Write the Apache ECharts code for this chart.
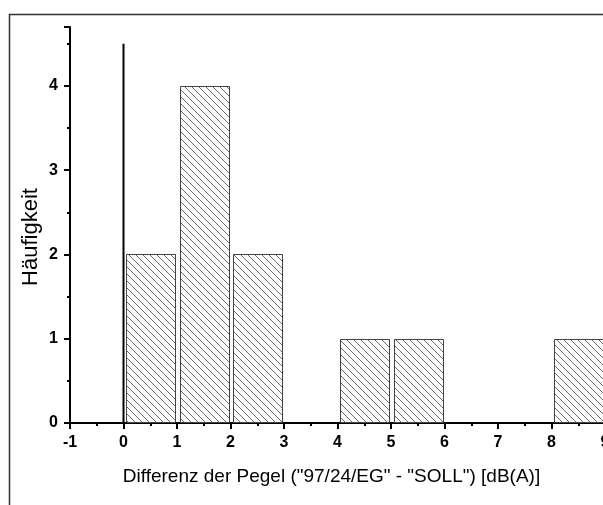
<!DOCTYPE html>
<html>
<head>
<meta charset="utf-8">
<script src="https://cdn.jsdelivr.net/npm/echarts@6/dist/echarts.min.js"></script>
<style>
  html, body { margin: 0; padding: 0; background: #fff; }
  #chart { width: 603px; height: 505px; }
</style>
</head>
<body>
<div id="chart"></div>
<script>
// histogram bins (left edge, width 1) and counts
const binStarts = [0, 1, 2, 4, 5, 8];
const counts = [2, 4, 2, 1, 1, 1];
const binWidth = 1;
const xTicks = [-1, 0, 1, 2, 3, 4, 5, 6, 7, 8, 9];
const yTicks = [0, 1, 2, 3, 4];
const zeroLine = [[0, 0], [0, 4.5]];

// diagonal hatch pattern
const hatch = document.createElement("canvas");
hatch.width = 7;
hatch.height = 7;
const ctx = hatch.getContext("2d");
ctx.strokeStyle = "#6a6a6a";
ctx.lineWidth = 1;
ctx.beginPath();
for (let k = -7; k <= 7; k += 7) {
  ctx.moveTo(k, 0);
  ctx.lineTo(k + 7, 7);
}
ctx.stroke();

const chart = echarts.init(document.getElementById("chart"));
const font = "'Liberation Sans', Arial, sans-serif";

const option = {
  animation: false,
  backgroundColor: "#fff",
  grid: { left: 70, right: -2, top: 27, bottom: 82, outerBoundsMode: "none", containLabel: false },
  graphic: [
    {
      type: "rect",
      shape: { x: 9.5, y: 14.5, width: 700, height: 600 },
      style: { fill: "none", stroke: "#333", lineWidth: 1.5 },
      silent: true,
    },
    {
      type: "text",
      x: 31,
      y: 237,
      rotation: Math.PI / 2,
      style: {
        text: "Häufigkeit",
        font: "22px " + font,
        fill: "#000",
        align: "center",
        verticalAlign: "middle",
      },
      silent: true,
    },
  ],
  xAxis: {
    type: "value",
    min: -1,
    max: 9,
    interval: 1,
    name: 'Differenz der Pegel ("97/24/EG" - "SOLL") [dB(A)]',
    nameLocation: "middle",
    nameGap: 44,
    nameTextStyle: { fontFamily: font, fontSize: 19, color: "#000", padding: [0, 12, 0, 0] },
    splitLine: { show: false },
    axisLine: { onZero: false, lineStyle: { color: "#000", width: 2 } },
    axisTick: { length: 6, lineStyle: { color: "#000", width: 2 } },
    minorTick: { show: true, splitNumber: 2, length: 3, lineStyle: { color: "#000", width: 2 } },
    axisLabel: {
      margin: 12,
      fontFamily: font,
      fontSize: 16,
      fontWeight: "bold",
      color: "#000",
      formatter: (v) => (xTicks.includes(v) ? String(v) : ""),
    },
  },
  yAxis: {
    type: "value",
    min: 0,
    max: 4.7,
    interval: 1,
    splitLine: { show: false },
    axisLine: { onZero: false, lineStyle: { color: "#000", width: 2 } },
    axisTick: { length: 6, lineStyle: { color: "#000", width: 2 } },
    minorTick: { show: true, splitNumber: 2, length: 3, lineStyle: { color: "#000", width: 2 } },
    axisLabel: {
      margin: 12,
      showMaxLabel: false,
      fontFamily: font,
      fontSize: 16,
      fontWeight: "bold",
      color: "#000",
      formatter: (v) => (yTicks.includes(v) ? String(v) : ""),
    },
  },
  series: [
    {
      type: "line",
      data: zeroLine,
      symbol: "none",
      silent: true,
      lineStyle: { color: "#000", width: 2 },
      z: 3,
    },
    {
      type: "custom",
      data: binStarts.map((s, i) => [s, s + binWidth, counts[i]]),
      renderItem: (params, api) => {
        const p0 = api.coord([api.value(0) + 0.05, api.value(2)]);
        const p1 = api.coord([api.value(1) - 0.04, 0]);
        return {
          type: "rect",
          shape: {
            x: Math.round(p0[0]) + 0.5,
            y: Math.round(p0[1]) + 0.5,
            width: Math.round(p1[0] - p0[0]),
            height: Math.round(p1[1] - p0[1]) - 1,
          },
          style: {
            fill: { image: hatch, repeat: "repeat" },
            stroke: "#444",
            lineWidth: 1,
          },
        };
      },
      z: 2,
    },
  ],
};

chart.setOption(option);
window.addEventListener("resize", () => chart.resize());
</script>
</body>
</html>
